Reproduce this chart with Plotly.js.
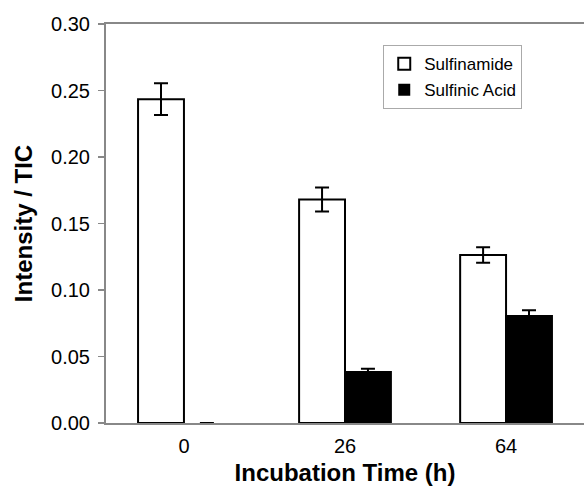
<!DOCTYPE html>
<html>
<head>
<meta charset="utf-8">
<script src="https://cdn.plot.ly/plotly-3.0.1.min.js"></script>
<style>html,body{margin:0;padding:0;background:#fff;}</style>
</head>
<body>
<div id="chart" style="width:584px;height:486px;"></div>
<script>
const categories = ['0', '26', '64'];
const sulfinamide = [0.2435, 0.168, 0.1263];
const sulfinamideErr = [0.012, 0.009, 0.0058];
const sulfinicAcid = [0.0, 0.0383, 0.0805];
const sulfinicAcidErr = [0.0, 0.0025, 0.0042];
const yTicks = [0, 0.05, 0.10, 0.15, 0.20, 0.25, 0.30];

const FONT = '"Liberation Sans", Arial, Helvetica, sans-serif';

// hide the outline of a zero-height bar (only its error cap shows, as in the original)
const outline = vals => vals.map(v => (v === 0 ? 0 : 2));

const traces = [
  {
    type: 'bar', name: 'Sulfinamide', x: categories, y: sulfinamide,
    legendgroup: 'a',
    marker: {color: '#ffffff', line: {color: '#000000', width: outline(sulfinamide)}},
    error_y: {type: 'data', array: sulfinamideErr, visible: true, color: '#000000', thickness: 2, width: 7}
  },
  {
    type: 'bar', name: 'Sulfinic Acid', x: categories, y: sulfinicAcid,
    legendgroup: 'b',
    marker: {color: '#000000', line: {color: '#000000', width: outline(sulfinicAcid)}},
    error_y: {type: 'data', array: sulfinicAcidErr, visible: true, color: '#000000', thickness: 2, width: 7}
  }
];

const layout = {
  width: 584, height: 486,
  margin: {l: 106, r: 0, t: 24, b: 63},
  paper_bgcolor: '#ffffff', plot_bgcolor: '#ffffff',
  font: {family: FONT, color: '#000000', size: 18},
  barmode: 'group', bargap: 0.43, bargroupgap: 0,
  showlegend: true,
  legend: {
    x: 0.58, y: 0.947, xanchor: 'left', yanchor: 'top',
    bgcolor: '#ffffff', bordercolor: '#aaaaaa', borderwidth: 1,
    font: {family: FONT, size: 17, color: '#000000'},
    traceorder: 'grouped', tracegroupgap: 1, itemwidth: 30
  },
  xaxis: {
    type: 'category', range: [-0.484, 2.484],
    showline: true, linecolor: '#888888', linewidth: 2, mirror: true,
    ticks: '', showgrid: false, zeroline: false, ticklabelstandoff: 4,
    tickfont: {family: FONT, size: 20, color: '#000000'},
    title: {text: 'Incubation Time (h)', font: {family: FONT, size: 24, color: '#000000', weight: 'bold'}, standoff: 13}
  },
  yaxis: {
    range: [0, 0.30], tickvals: yTicks, tickformat: '.2f',
    showline: true, linecolor: '#888888', linewidth: 2,
    ticks: 'outside', ticklen: 6, tickcolor: '#888888', tickwidth: 1.5,
    showgrid: false, zeroline: false, ticklabelstandoff: 4,
    tickfont: {family: FONT, size: 20, color: '#000000'},
    title: {text: 'Intensity / TIC', font: {family: FONT, size: 24, color: '#000000', weight: 'bold'}, standoff: 12}
  }
};

Plotly.newPlot('chart', traces, layout, {displayModeBar: false, staticPlot: true});
</script>
</body>
</html>
